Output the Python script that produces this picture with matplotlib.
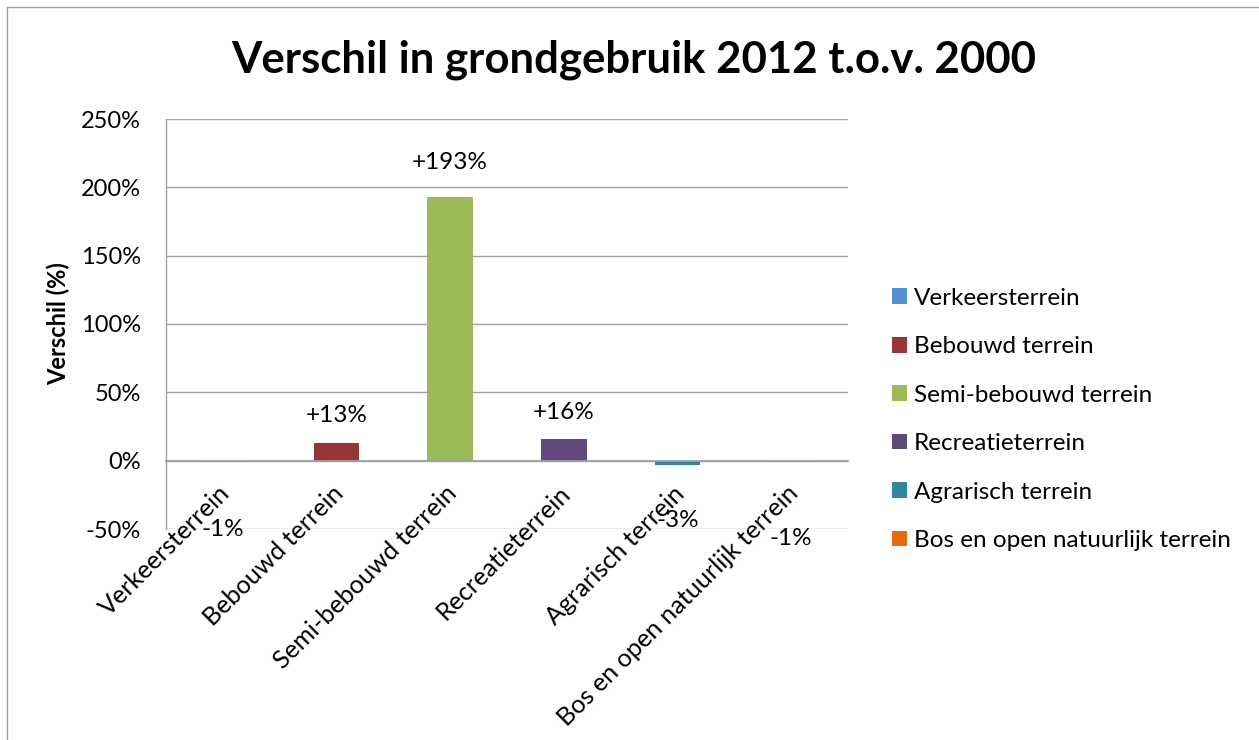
import matplotlib
matplotlib.use("Agg")
import matplotlib.pyplot as plt
from matplotlib.lines import Line2D
from matplotlib.patches import Patch
from matplotlib.transforms import ScaledTranslation

plt.rcParams['font.family'] = ['Lato', 'DejaVu Sans']

categories = ["Verkeersterrein", "Bebouwd terrein", "Semi-bebouwd terrein",
              "Recreatieterrein", "Agrarisch terrein", "Bos en open natuurlijk terrein"]
values = [-1, 13, 193, 16, -3, -1]
value_labels = ["-1%", "+13%", "+193%", "+16%", "-3%", "-1%"]
label_y = [-50, 32.7, 218.5, 34.9, -44, -57.3]
colors = ["#558ED5", "#953735", "#9BBB59", "#604A7B", "#31859C", "#E46C0A"]
yticks = [-50, 0, 50, 100, 150, 200, 250]
ytick_labels = ["-50%", "0%", "50%", "100%", "150%", "200%", "250%"]

FS = 17.5

fig = plt.figure(figsize=(12.59, 7.40), dpi=100)
ax = fig.add_axes([166/1259, 1-529/740, (848-166)/1259, (529-119)/740])

x = list(range(len(categories)))
ax.bar(x, values, width=0.4, color=colors, zorder=2)
ax.set_xlim(-0.5, len(categories) - 0.5)
ax.set_ylim(-50, 250)

grid_c = "#A0A0A0"
ax.set_yticks(yticks)
ax.set_yticklabels(ytick_labels, fontsize=17)
ax.yaxis.grid(True, color=grid_c, linewidth=1.0, zorder=1)
ax.tick_params(axis='y', length=0, pad=18)
for s in ['top', 'right']:
    ax.spines[s].set_visible(False)
ax.spines['left'].set_color(grid_c)
ax.spines['left'].set_linewidth(1.0)
ax.spines['bottom'].set_position(('data', 0))
ax.spines['bottom'].set_color(grid_c)
ax.spines['bottom'].set_linewidth(1.3)
ax.spines['bottom'].set_zorder(3)

ax.set_xticks(x)
ax.set_xticklabels(categories, fontsize=18.2, rotation=45, ha='right',
                   va='top', rotation_mode='anchor')
ax.tick_params(axis='x', length=0, pad=15)
shift = ScaledTranslation(-5/100, 0, fig.dpi_scale_trans)
for lbl in ax.get_xticklabels():
    lbl.set_transform(lbl.get_transform() + shift)

for xi, lab, ly in zip(x, value_labels, label_y):
    ax.text(xi, ly, lab, ha='center', va='center', fontsize=FS, zorder=4)

fig.text(58/1259, 1-324/740, "Verschil (%)", rotation=90, ha='center',
         va='center', fontsize=17, fontweight='bold')

fig.text(634/1259, 1-72/740, "Verschil in grondgebruik 2012 t.o.v. 2000",
         ha='center', va='baseline', fontsize=31.5, fontweight='bold')

handles = [Patch(facecolor=c, edgecolor='none') for c in colors]
leg = fig.legend(handles, categories, loc='upper left',
                 bbox_to_anchor=(882/1259, 1-278/740), frameon=False,
                 fontsize=FS, handlelength=0.62, handleheight=0.62,
                 handletextpad=0.3, labelspacing=1.13, borderaxespad=0)

fig.add_artist(Line2D([7/1259, 7/1259], [0, 1-7/740], color="#A0A0A0",
                      linewidth=1.0, transform=fig.transFigure))
fig.add_artist(Line2D([7/1259, 1], [1-7/740, 1-7/740], color="#A0A0A0",
                      linewidth=1.0, transform=fig.transFigure))

fig.savefig("out.png", dpi=100, facecolor="white")
